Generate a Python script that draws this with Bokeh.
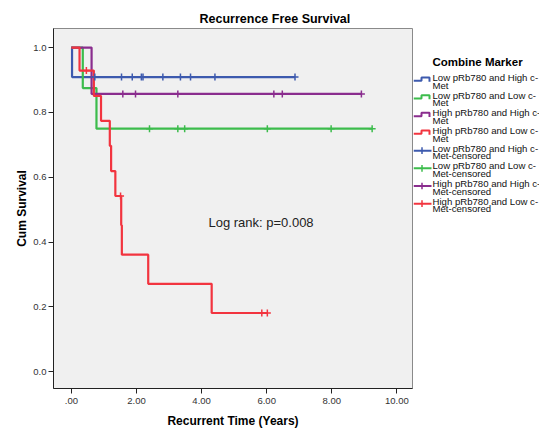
from bokeh.plotting import figure
from bokeh.models import Range1d, FixedTicker
from bokeh.layouts import row
from bokeh.embed import file_html
from bokeh.resources import INLINE
from bokeh.core.properties import value

# ---------------- data ----------------
group_names = [
    "Low pRb780 and High c-Met",
    "Low pRb780 and Low c-Met",
    "High pRb780 and High c-Met",
    "High pRb780 and Low c-Met",
]
group_colors = ["#3d5aae", "#3cbc4c", "#8a2d8e", "#f2343f"]

# step times (where survival changes) and survival level after each step
blue_times = [0.0, 0.02]
blue_surv = [1.0, 0.909]
blue_end = 6.87
blue_censor = [0.72, 1.54, 1.87, 2.15, 2.20, 2.81, 3.35, 3.66, 4.41, 6.87]

green_times = [0.0, 0.35, 0.77]
green_surv = [1.0, 0.875, 0.75]
green_end = 9.24
green_censor = [2.40, 3.27, 3.48, 6.02, 7.98, 9.24]

purple_times = [0.0, 0.62]
purple_surv = [1.0, 0.857]
purple_end = 8.91
purple_censor = [1.58, 1.97, 3.27, 6.22, 6.48, 8.91]

red_times = [0.0, 0.25, 0.69, 0.91, 1.18, 1.22, 1.35, 1.53, 1.55, 2.36, 4.31]
red_surv = [1.0, 0.929, 0.851, 0.774, 0.697, 0.619, 0.542, 0.452, 0.361, 0.271, 0.181]
red_end = 6.02
red_censor = [0.46, 1.51, 5.85, 6.02]

x_ticks = [0, 2, 4, 6, 8, 10]
x_tick_labels = [".00", "2.00", "4.00", "6.00", "8.00", "10.00"]
y_ticks = [0.0, 0.2, 0.4, 0.6, 0.8, 1.0]
y_tick_labels = ["0.0", "0.2", "0.4", "0.6", "0.8", "1.0"]

title_text = "Recurrence Free Survival"
x_title = "Recurrent Time (Years)"
y_title = "Cum Survival"
legend_title = "Combine Marker"
annotation_text = "Log rank: p=0.008"

groups = [
    (blue_times, blue_surv, blue_end, blue_censor),
    (green_times, green_surv, green_end, green_censor),
    (purple_times, purple_surv, purple_end, purple_censor),
    (red_times, red_surv, red_end, red_censor),
]

FONT = "Liberation Sans"
TOTAL_W, TOTAL_H = 539, 430
MAIN_W = 413

# ---------------- main plot ----------------
p = figure(width=MAIN_W, height=TOTAL_H, x_range=Range1d(-0.55, 10.48), y_range=Range1d(-0.052, 1.059),
           output_backend="svg", toolbar_location=None, title=title_text,
           min_border_left=53, min_border_right=1, min_border_top=28, min_border_bottom=41)
p.background_fill_color = "#F0F0F0"
p.border_fill_color = "white"
p.outline_line_color = "#8a8a8a"
p.xgrid.visible = False
p.ygrid.visible = False

p.title.align = "left"
p.title.offset = 146
p.title.standoff = 5
p.title.text_font = FONT
p.title.text_font_size = "12.5px"
p.title.text_font_style = "bold"
p.title.text_color = "black"

for ax in (p.xaxis[0], p.yaxis[0]):
    ax.axis_line_color = "#222222"
    ax.major_tick_line_color = "#222222"
    ax.major_tick_out = 5
    ax.major_tick_in = 0
    ax.minor_tick_line_color = None
    ax.major_label_text_font = FONT
    ax.major_label_text_font_size = "9.5px"
    ax.major_label_text_color = "#333333"
    ax.axis_label_text_font = FONT
    ax.axis_label_text_font_size = "12px"
    ax.axis_label_text_font_style = "bold"
    ax.axis_label_text_color = "black"

p.xaxis.ticker = FixedTicker(ticks=x_ticks)
p.xaxis.major_label_overrides = {t: l for t, l in zip(x_ticks, x_tick_labels)}
p.yaxis.ticker = FixedTicker(ticks=y_ticks)
p.yaxis.major_label_overrides = {t: l for t, l in zip(y_ticks, y_tick_labels)}
p.xaxis.axis_label = x_title
p.yaxis.axis_label = y_title
p.xaxis.major_label_standoff = 4
p.yaxis.major_label_standoff = 2
p.xaxis.axis_label_standoff = 7
p.yaxis.axis_label_standoff = 1


def level_at(times, surv, t):
    lv = surv[0]
    for tt, s in zip(times, surv):
        if tt <= t:
            lv = s
    return lv


for (times, surv, end, cens), col in zip(groups, group_colors):
    xs = list(times) + [end]
    ys = list(surv) + [surv[-1]]
    p.step(xs, ys, mode="after", line_color=col, line_width=2.2)

for (times, surv, end, cens), col in zip(groups, group_colors):
    cy = [level_at(times, surv, c) for c in cens]
    p.scatter(cens, cy, marker="cross", size=7, line_color=col, line_width=1.5)

p.text(x=[4.21], y=[0.459], text=[annotation_text], text_font=value(FONT),
       text_font_size="13px", text_baseline="middle", text_align="left", text_color="#222222")

# ---------------- legend panel ----------------
lg = figure(width=TOTAL_W - MAIN_W, height=TOTAL_H, x_range=Range1d(MAIN_W, TOTAL_W),
            y_range=Range1d(TOTAL_H, 0),
            output_backend="svg", toolbar_location=None, min_border=0)
lg.axis.visible = False
lg.xgrid.visible = False
lg.ygrid.visible = False
lg.outline_line_color = None
lg.background_fill_color = "white"
lg.border_fill_color = "white"

lg.text(x=[432], y=[40], text=[legend_title], text_font=value(FONT), text_font_size="11.5px",
        text_font_style="bold", text_baseline="middle", text_color="black")

labels = group_names + [n + "-censored" for n in group_names]
for i, lab in enumerate(labels):
    y1 = 58.5 + 21.1 * i
    cut = lab.index("c-") + 2
    line1, line2 = lab[:cut], lab[cut:]
    col = group_colors[i % 4]
    if i < 4:
        lo = y1 + 4
        hi = y1
        lg.line([413, 421, 421, 429, 429], [lo, lo, hi, hi, lo + 1], line_color=col, line_width=2)
    else:
        yc = y1 + 3
        lg.line([413, 431], [yc, yc], line_color=col, line_width=2)
        lg.line([421.5, 421.5], [yc - 4, yc + 4], line_color=col, line_width=1.5)
    lg.text(x=[432], y=[y1], text=[line1], text_font=value(FONT), text_font_size="9.6px",
            text_baseline="middle", text_color="#111111")
    lg.text(x=[432], y=[y1 + 9], text=[line2], text_font=value(FONT), text_font_size="9.6px",
            text_baseline="middle", text_color="#111111")

layout = row(p, lg, spacing=0)
open("out.html", "w").write(file_html(layout, INLINE))
